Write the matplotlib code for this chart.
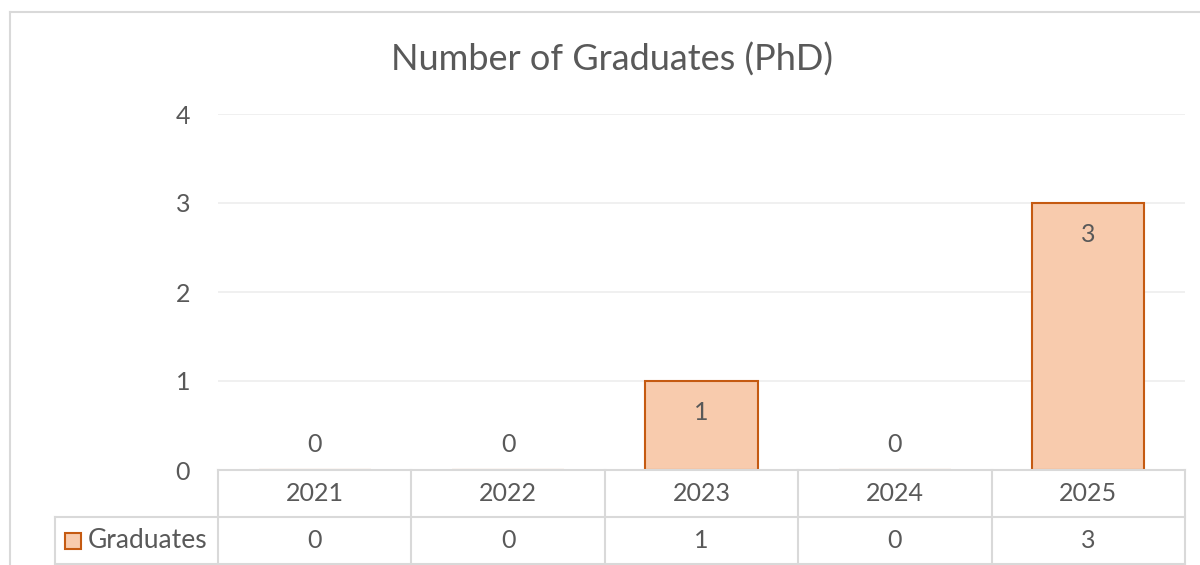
import matplotlib.pyplot as plt
from matplotlib.patches import Rectangle
from matplotlib.lines import Line2D

plt.rcParams['font.family'] = ['Lato', 'DejaVu Sans']

# 数据
years = ['2021', '2022', '2023', '2024', '2025']
graduates = [0, 0, 1, 0, 3]
series_name = 'Graduates'
title = 'Number of Graduates (PhD)'

TEXT = '#595959'
GRID = '#EDEDED'
BORDER = '#D9D9D9'
FILL = '#F8CBAD'
EDGE = '#C55A11'
FS = 18

W, H = 1200, 565
fig = plt.figure(figsize=(W / 100, H / 100), dpi=100)

# 绘图区 (像素位置换算成 figure 坐标)
left, right, bottom, top = 218, 1185, 470, 114
ax = fig.add_axes([left / W, 1 - bottom / H, (right - left) / W, (bottom - top) / H])

x = list(range(len(years)))
ax.bar(x, graduates, width=0.58, color=FILL, edgecolor=EDGE, linewidth=1.5, zorder=3)

ax.set_xlim(-0.5, len(years) - 0.5)
ax.set_ylim(0, 4)
ax.set_yticks(range(0, 5))
ax.set_xticks([])
ax.tick_params(axis='y', length=0, pad=20, labelsize=FS, labelcolor=TEXT)
ax.grid(axis='y', color=GRID, linewidth=1.2, zorder=0)
for s in ax.spines.values():
    s.set_visible(False)

# 数据标签
for xi, v in zip(x, graduates):
    off = -23 if v > 0 else 18
    ax.annotate(str(v), (xi, v), xytext=(0, off), textcoords='offset points',
                ha='center', va='center', fontsize=FS, color=TEXT, zorder=4)

# 数据表
row_h = 47 / (bottom - top)
key_left = (55 - left) / (right - left)
tr = ax.get_xaxis_transform()
line_kw = dict(color=BORDER, linewidth=1.5, clip_on=False, zorder=5)

ax.add_line(Line2D([-0.5, len(years) - 0.5], [0, 0], transform=tr, **line_kw))
ax.add_line(Line2D([key_left, 1], [-row_h, -row_h], transform=ax.transAxes, **line_kw))
ax.add_line(Line2D([key_left, 1], [-2 * row_h, -2 * row_h], transform=ax.transAxes, **line_kw))
ax.add_line(Line2D([key_left, key_left], [-row_h, -2 * row_h], transform=ax.transAxes, **line_kw))
for i in range(len(years) + 1):
    ax.add_line(Line2D([i - 0.5, i - 0.5], [0, -2 * row_h], transform=tr, **line_kw))

for xi, yr, v in zip(x, years, graduates):
    ax.text(xi, -row_h / 2, yr, transform=tr, ha='center', va='center',
            fontsize=FS, color=TEXT)
    ax.text(xi, -1.5 * row_h, str(v), transform=tr, ha='center', va='center',
            fontsize=FS, color=TEXT)

# 图例键
key_x = (65 - left) / (right - left)
key_w = 16 / (right - left)
key_h = 16 / (bottom - top)
ax.add_patch(Rectangle((key_x, -1.5 * row_h - key_h / 2), key_w, key_h,
                       transform=ax.transAxes, facecolor=FILL, edgecolor=EDGE,
                       linewidth=1.5, clip_on=False))
ax.text((88 - left) / (right - left), -1.5 * row_h, series_name, transform=ax.transAxes,
        ha='left', va='center', fontsize=19, color=TEXT)

# 标题
fig.text(612 / W, 1 - 60 / H, title, ha='center', va='center', fontsize=26,
         color=TEXT)

# 外框
fig.add_artist(Line2D([10 / W, 10 / W], [0, 1 - 12 / H], transform=fig.transFigure,
                      color=BORDER, linewidth=1.5))
fig.add_artist(Line2D([10 / W, 1], [1 - 12 / H, 1 - 12 / H], transform=fig.transFigure,
                      color=BORDER, linewidth=1.5))

fig.savefig('out.png', dpi=100, facecolor='white')
